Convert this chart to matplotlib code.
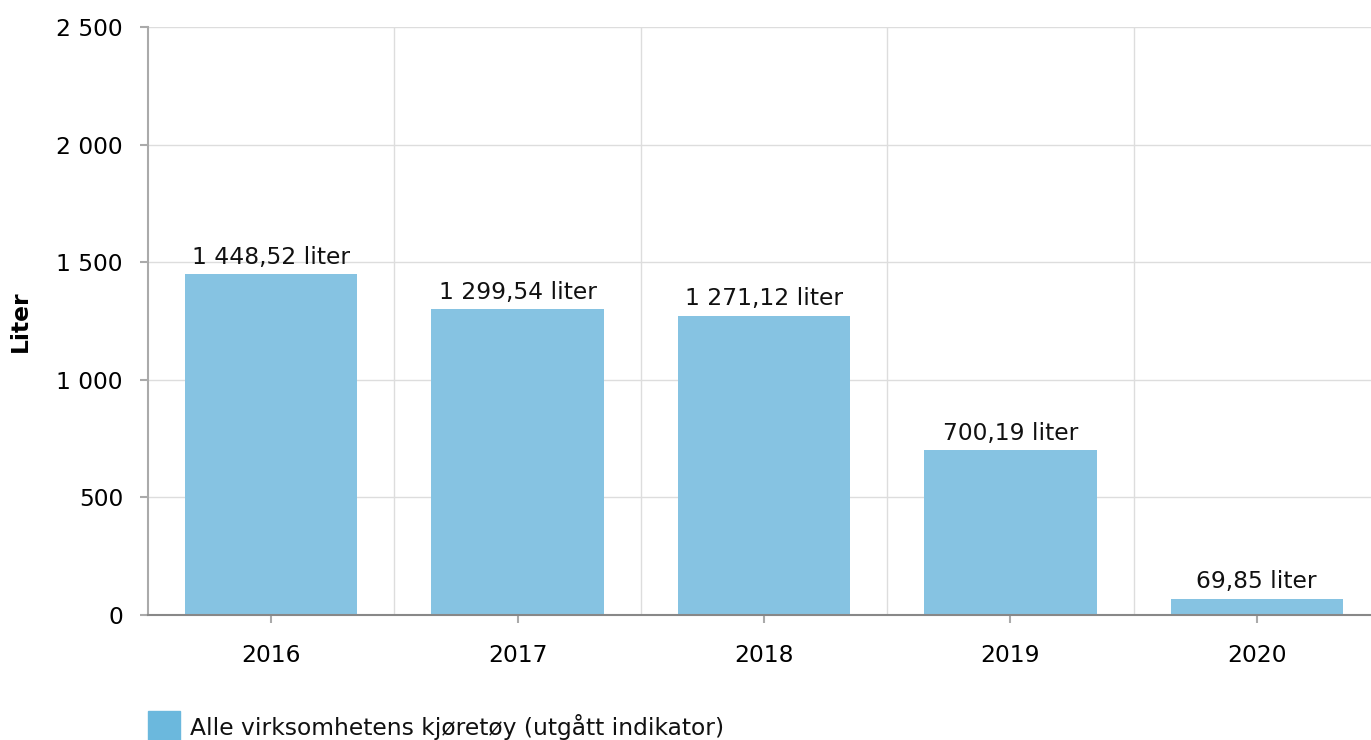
import matplotlib
matplotlib.use("Agg")
import matplotlib.pyplot as plt
from matplotlib.patches import Rectangle

years = ["2016", "2017", "2018", "2019", "2020"]
values = [1448.52, 1299.54, 1271.12, 700.19, 69.85]
y_ticks = [0, 500, 1000, 1500, 2000, 2500]
series_name = "Alle virksomhetens kjøretøy (utgått indikator)"


def fmt_num(v, decimals=0):
    s = f"{v:,.{decimals}f}"
    return s.replace(",", " ").replace(".", ",")


def main():
    W, H = 1371, 740
    fs = 16.8
    fig = plt.figure(figsize=(W / 100, H / 100), dpi=100)
    # axes box in pixels: left 148, right ~1380, top 27, bottom 615
    ax = fig.add_axes([148 / W, (H - 615) / H, 1232 / W, (615 - 27) / H])

    x = list(range(len(years)))
    ax.bar(x, values, width=0.7, color="#86c3e2", zorder=2)

    for xi, v in zip(x, values):
        ax.annotate(f"{fmt_num(v, 2)} liter", (xi, v), xytext=(0, 4),
                    textcoords="offset points", ha="center", va="bottom",
                    fontsize=fs, color="#111111")

    ax.set_xlim(-0.5, len(years) - 0.5)
    ax.set_ylim(0, 2500)
    ax.set_yticks(y_ticks)
    ax.set_yticklabels([fmt_num(t) for t in y_ticks], fontsize=fs)
    ax.set_xticks(x)
    ax.set_xticklabels(years, fontsize=fs)

    # grid: horizontal at ticks, vertical at category boundaries
    for t in y_ticks[1:]:
        ax.axhline(t, color="#dddddd", lw=1, zorder=0)
    for b in range(1, len(years)):
        ax.axvline(b - 0.5, color="#dddddd", lw=1, zorder=0)

    for s in ["top", "right"]:
        ax.spines[s].set_visible(False)
    ax.spines["left"].set_color("#aaaaaa")
    ax.spines["left"].set_linewidth(1.5)
    ax.spines["bottom"].set_color("#888888")
    ax.spines["bottom"].set_linewidth(1.5)
    ax.tick_params(axis="y", length=6, color="#aaaaaa", width=1.5, pad=12)
    ax.tick_params(axis="x", length=6, color="#aaaaaa", width=1.5, pad=15)

    ax.set_ylabel("Liter", fontsize=fs, fontweight="bold", labelpad=0)
    ax.yaxis.set_label_coords(-116 / 1232, 0.5)

    # legend at bottom left (partly clipped in the original)
    fig.patches.append(Rectangle((148 / W, 0), 32 / W, 29 / H, transform=fig.transFigure,
                                 color="#6bb8dd", zorder=5))
    fig.text(190 / W, 13 / H, series_name, fontsize=fs, va="center", ha="left", color="#111111")

    fig.savefig("out.png", dpi=100)
    plt.close(fig)


if __name__ == "__main__":
    main()
